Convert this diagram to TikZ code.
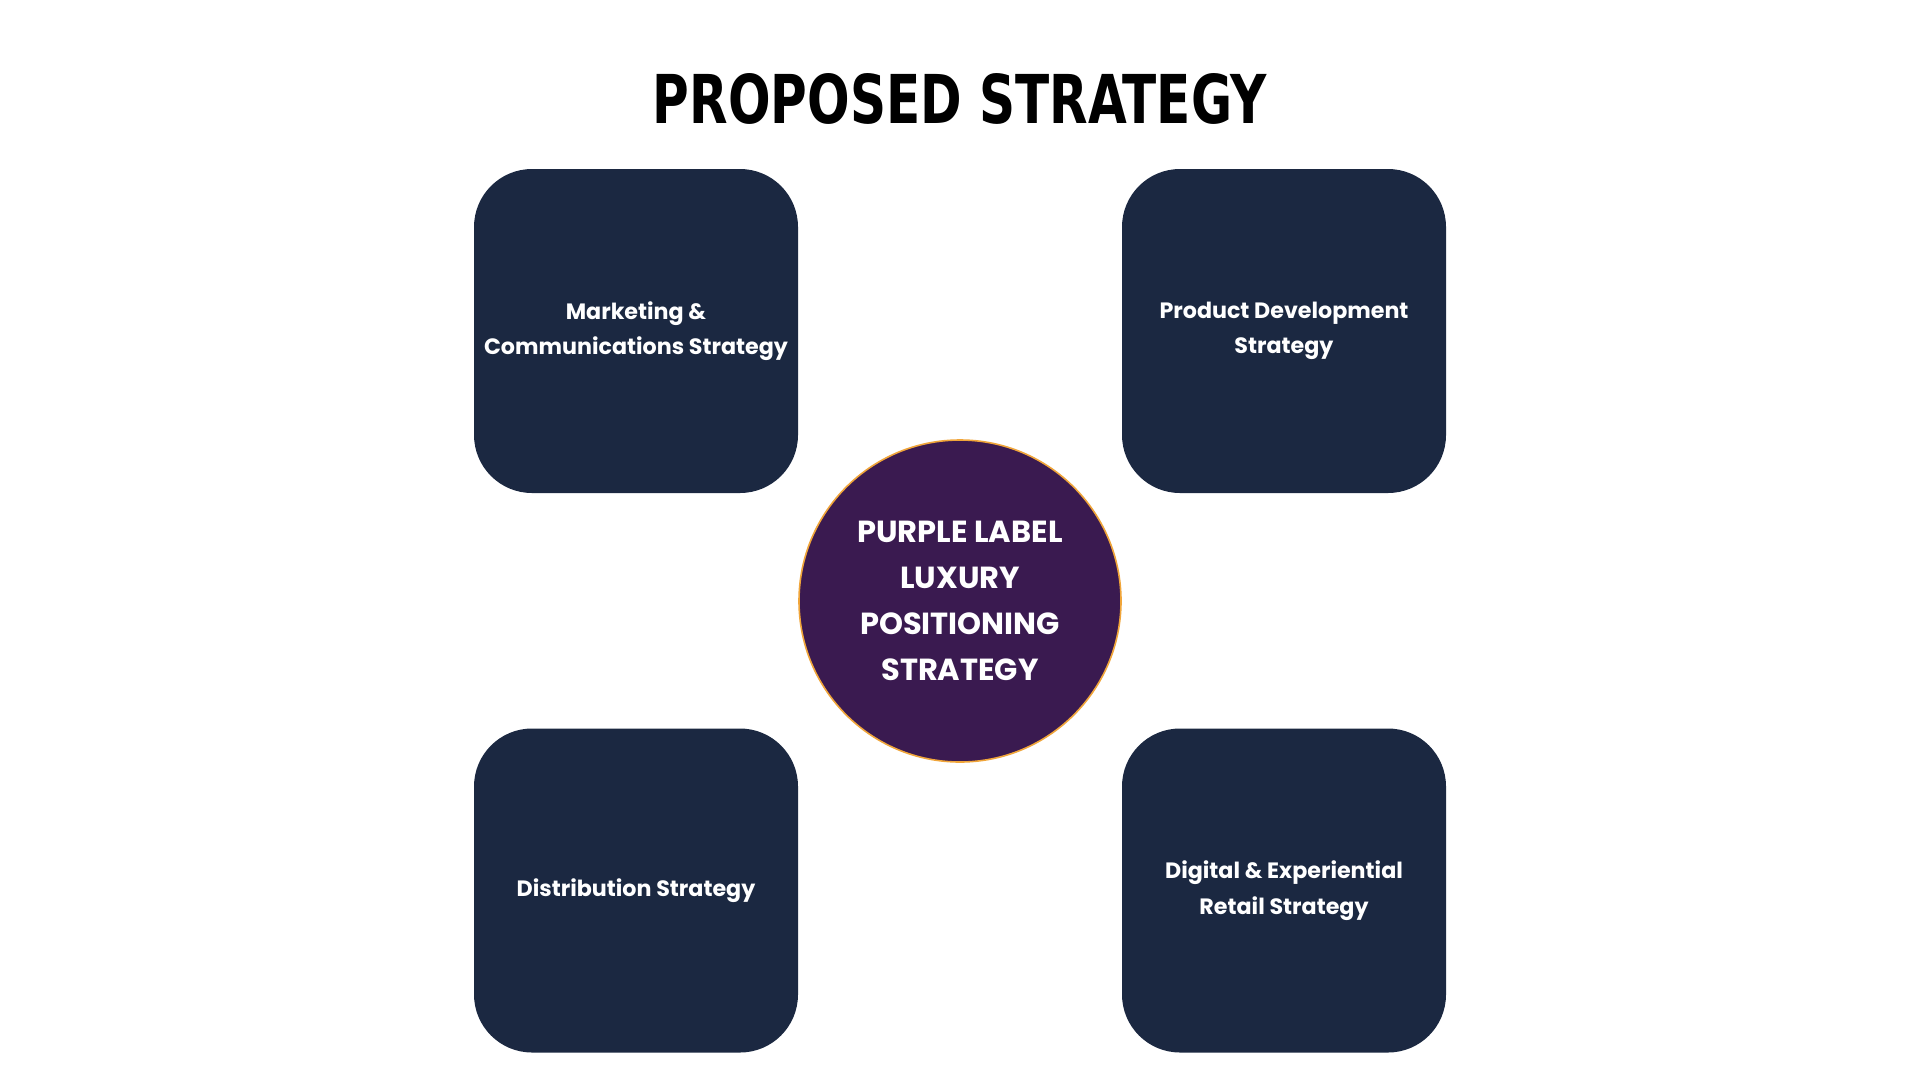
\documentclass[tikz,border=0pt]{standalone}
\usepackage{fontspec}
\usepackage{graphicx}
\setmainfont{Poppins}
\newfontfamily\titlefont{DejaVu Sans Condensed}
\definecolor{navy}{HTML}{1B2841}
\definecolor{deeppurple}{HTML}{3A1A50}
\definecolor{goldrim}{HTML}{F0A53A}
\tikzset{
  stratbox/.style={fill=navy, draw=none, rounded corners=58pt, minimum width=324pt, minimum height=324pt, inner sep=0pt,
    text=white, align=center, font=\fontsize{22.2}{35.5}\selectfont\bfseries},
  hub/.style={circle, fill=deeppurple, draw=goldrim, line width=1.6pt, minimum size=322pt, inner sep=0pt,
    text=white, align=center, font=\fontsize{30.5}{46}\selectfont\bfseries},
}
\begin{document}
\begin{tikzpicture}[x=1pt,y=-1pt]
\useasboundingbox[fill=white] (0,0) rectangle (1920,1080);
\node (title) at (960,99) {\resizebox{614pt}{50pt}{\titlefont\bfseries PROPOSED STRATEGY}};
\node[stratbox] (mkt) at (636,331) {Marketing \&\\Communications Strategy};
\node[stratbox] (prod) at (1284,331) {Product Development\\Strategy};
\node[stratbox] (dist) at (636,890.5) {Distribution Strategy};
\node[stratbox] (digi) at (1284,890.5) {Digital \& Experiential\\Retail Strategy};
\node[hub] (core) at (960,601) {PURPLE LABEL\\LUXURY\\POSITIONING\\STRATEGY};
\end{tikzpicture}
\end{document}
